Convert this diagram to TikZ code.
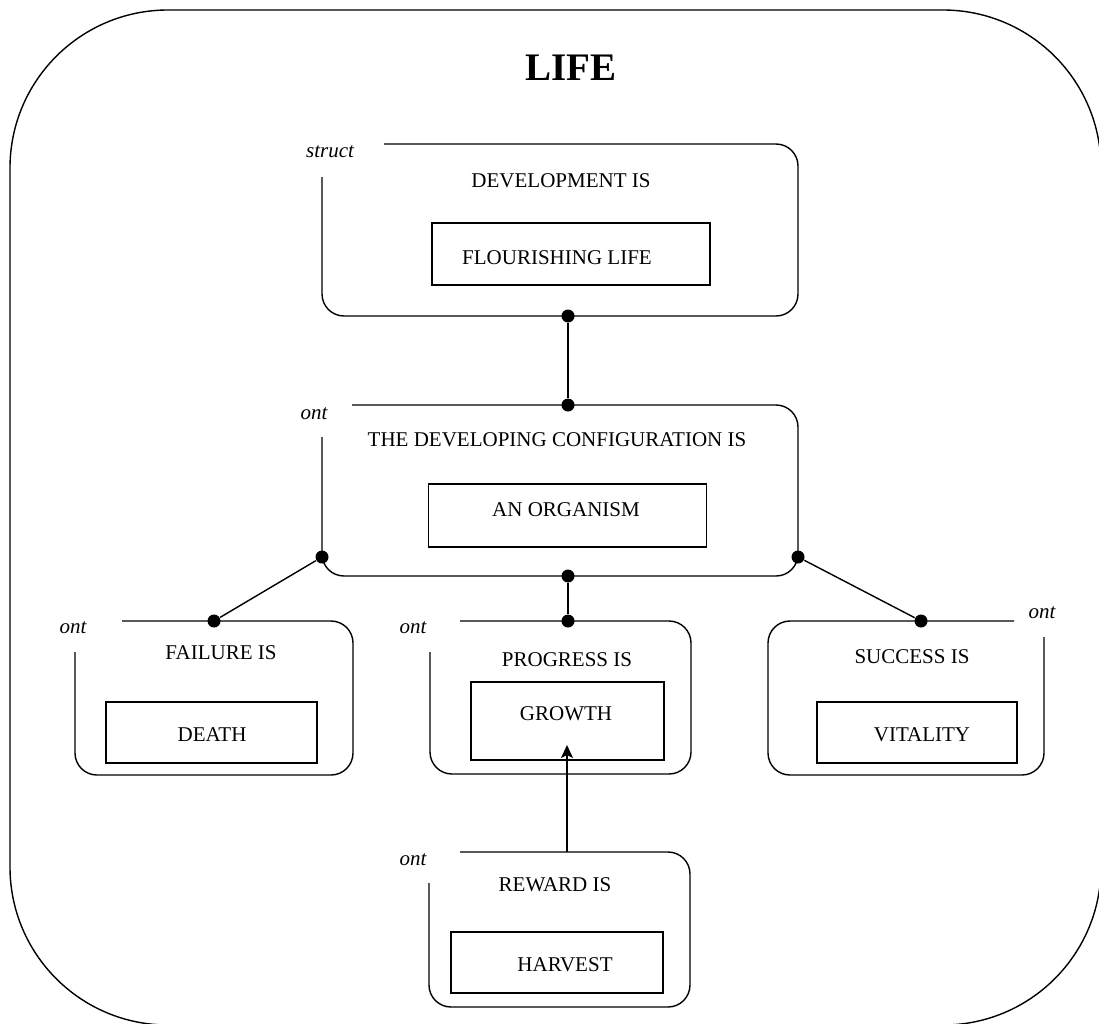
\documentclass[tikz,border=0pt]{standalone}
\usepackage{fontspec}
\setmainfont{Liberation Serif}
\usetikzlibrary{arrows.meta}
\begin{document}
\begin{tikzpicture}[x=1pt,y=-1pt,
  line width=1.4pt,
  frame/.style={line width=1.4pt, rounded corners=22pt},
  inbox/.style={draw, line width=1.4pt, inner sep=0pt},
  txt/.style={inner sep=0pt, font=\fontsize{21}{25}\selectfont},
  kind/.style={inner sep=0pt, font=\fontsize{21}{25}\selectfont\itshape},
  title/.style={inner sep=0pt, font=\fontsize{39}{45}\selectfont\bfseries},
  dot/.style={circle, fill=black, inner sep=0pt, minimum size=13pt},
  link/.style={line width=1.4pt}]

\useasboundingbox (0,0) rectangle (1099,1023);
\clip (0,0) rectangle (1099,1023);

% enclosing domain
\draw[line width=1.4pt, rounded corners=158pt] (10,10) rectangle (1101,1025);
\node[title] (life) at (571,68) {LIFE};

% DEVELOPMENT IS
\draw[frame] (322,177) -- (322,316) -- (798,316) -- (798,144) -- (384,144);
\node[kind] (k1) at (330,152) {struct};
\node[txt] (t1) at (561,181) {DEVELOPMENT IS};
\node[inbox, minimum width=278pt, minimum height=62pt] (b1) at (571,254) {};
\node[txt] (v1) at (557,258) {FLOURISHING LIFE};

% THE DEVELOPING CONFIGURATION IS
\draw[frame] (322,437) -- (322,576) -- (798,576) -- (798,405) -- (352,405);
\node[kind] (k2) at (314,414) {ont};
\node[txt] (t2) at (557,440) {THE DEVELOPING CONFIGURATION IS};
\node[inbox, minimum width=278pt, minimum height=63pt] (b2) at (567.5,515.5) {};
\node[txt] (v2) at (566,510) {AN ORGANISM};

% FAILURE IS
\draw[frame] (75,652) -- (75,775) -- (353,775) -- (353,621) -- (122,621);
\node[kind] (k3) at (73,628) {ont};
\node[txt] (t3) at (221,653) {FAILURE IS};
\node[inbox, minimum width=211pt, minimum height=61pt] (b3) at (211.5,732.5) {};
\node[txt] (v3) at (212,735) {DEATH};

% PROGRESS IS
\draw[frame] (430,652) -- (430,774) -- (691,774) -- (691,621) -- (460,621);
\node[kind] (k4) at (413,628) {ont};
\node[txt] (t4) at (567,660) {PROGRESS IS};
\node[inbox, minimum width=193pt, minimum height=78pt] (b4) at (567.5,721) {};
\node[txt] (v4) at (566,714) {GROWTH};

% SUCCESS IS
\draw[frame] (1044,637) -- (1044,775) -- (768,775) -- (768,621) -- (1014,621);
\node[kind] (k5) at (1042,613) {ont};
\node[txt] (t5) at (912,657) {SUCCESS IS};
\node[inbox, minimum width=200pt, minimum height=61pt] (b5) at (917,732.5) {};
\node[txt] (v5) at (922,735) {VITALITY};

% REWARD IS
\draw[frame] (429,883) -- (429,1007) -- (690,1007) -- (690,852) -- (460,852);
\node[kind] (k6) at (413,860) {ont};
\node[txt] (t6) at (555,885) {REWARD IS};
\node[inbox, minimum width=212pt, minimum height=61pt] (b6) at (557,962.5) {};
\node[txt] (v6) at (565,965) {HARVEST};

% attachment points
\node[dot] (p1b) at (568,316) {};
\node[dot] (p2t) at (568,405) {};
\node[dot] (p2l) at (322,557) {};
\node[dot] (p2r) at (798,557) {};
\node[dot] (p2b) at (568,576) {};
\node[dot] (p3t) at (214,621) {};
\node[dot] (p4t) at (568,621) {};
\node[dot] (p5t) at (921,621) {};
\coordinate (p6t) at (567,852);
\coordinate (g4) at (567,745);

% links
\draw[link] (p1b) -- (p2t);
\draw[link] (p2l) -- (p3t);
\draw[link] (p2b) -- (p4t);
\draw[link] (p2r) -- (p5t);
\draw[link, -{Stealth[length=13pt, width=12pt, inset=3pt]}] (p6t) -- (g4);

\end{tikzpicture}
\end{document}
